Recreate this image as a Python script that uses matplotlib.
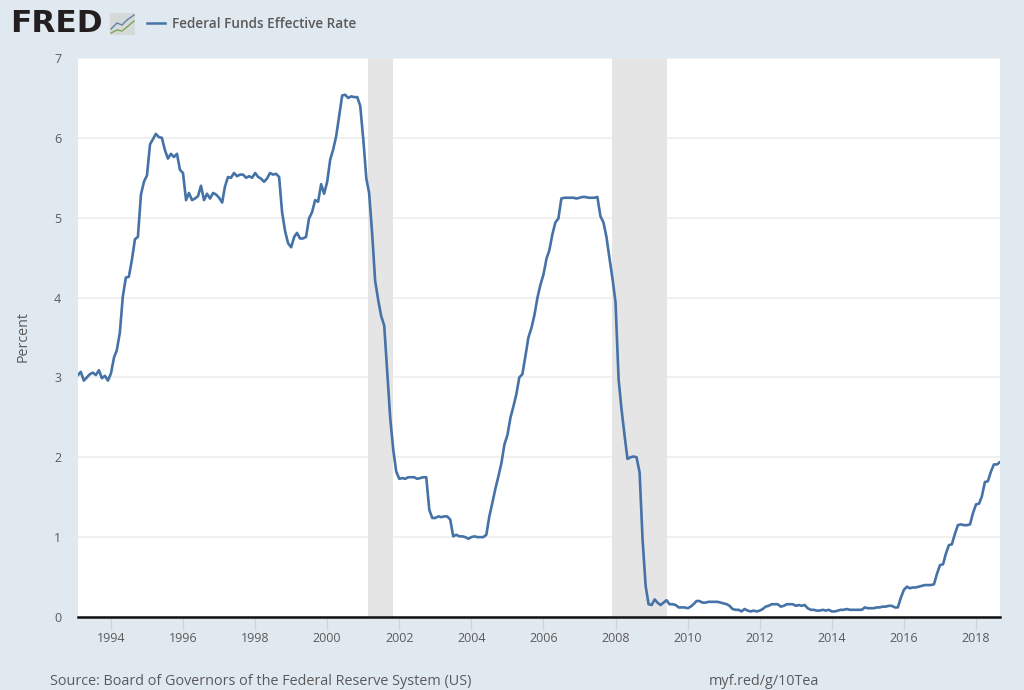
import matplotlib

matplotlib.use("Agg")
import matplotlib.pyplot as plt
import matplotlib.dates as mdates
import pandas as pd
from matplotlib.lines import Line2D
from matplotlib.patches import Rectangle

# monthly values, Feb 1993 to Sep 2018
RATE_1993 = [3.03, 3.07, 2.96, 3.00, 3.04, 3.06, 3.03, 3.09, 2.99, 3.02, 2.96]
RATE_1994 = [3.05, 3.25, 3.34, 3.56, 4.01, 4.25, 4.26, 4.47, 4.73, 4.76, 5.29, 5.45]
RATE_1995 = [5.53, 5.92, 5.98, 6.05, 6.01, 6.00, 5.85, 5.74, 5.80, 5.76, 5.80, 5.60]
RATE_1996 = [5.56, 5.22, 5.31, 5.22, 5.24, 5.27, 5.40, 5.22, 5.30, 5.24, 5.31, 5.29]
RATE_1997 = [5.25, 5.19, 5.39, 5.51, 5.50, 5.56, 5.52, 5.54, 5.54, 5.50, 5.52, 5.50]
RATE_1998 = [5.56, 5.51, 5.49, 5.45, 5.49, 5.56, 5.54, 5.55, 5.51, 5.07, 4.83, 4.68]
RATE_1999 = [4.63, 4.76, 4.81, 4.74, 4.74, 4.76, 4.99, 5.07, 5.22, 5.20, 5.42, 5.30]
RATE_2000 = [5.45, 5.73, 5.85, 6.02, 6.27, 6.53, 6.54, 6.50, 6.52, 6.51, 6.51, 6.40]
RATE_2001 = [5.98, 5.49, 5.31, 4.80, 4.21, 3.97, 3.77, 3.65, 3.07, 2.49, 2.09, 1.82]
RATE_2002 = [1.73, 1.74, 1.73, 1.75, 1.75, 1.75, 1.73, 1.74, 1.75, 1.75, 1.34, 1.24]
RATE_2003 = [1.24, 1.26, 1.25, 1.26, 1.26, 1.22, 1.01, 1.03, 1.01, 1.01, 1.00, 0.98]
RATE_2004 = [1.00, 1.01, 1.00, 1.00, 1.00, 1.03, 1.26, 1.43, 1.61, 1.76, 1.93, 2.16]
RATE_2005 = [2.28, 2.50, 2.63, 2.79, 3.00, 3.04, 3.26, 3.50, 3.62, 3.78, 4.00, 4.16]
RATE_2006 = [4.29, 4.49, 4.59, 4.79, 4.94, 4.99, 5.24, 5.25, 5.25, 5.25, 5.25, 5.24]
RATE_2007 = [5.25, 5.26, 5.26, 5.25, 5.25, 5.25, 5.26, 5.02, 4.94, 4.76, 4.49, 4.24]
RATE_2008 = [3.94, 2.98, 2.61, 2.28, 1.98, 2.00, 2.01, 2.00, 1.81, 0.97, 0.39, 0.16]
RATE_2009 = [0.15, 0.22, 0.18, 0.15, 0.18, 0.21, 0.16, 0.16, 0.15, 0.12, 0.12, 0.12]
RATE_2010 = [0.11, 0.13, 0.16, 0.20, 0.20, 0.18, 0.18, 0.19, 0.19, 0.19, 0.19, 0.18]
RATE_2011 = [0.17, 0.16, 0.14, 0.10, 0.09, 0.09, 0.07, 0.10, 0.08, 0.07, 0.08, 0.07]
RATE_2012 = [0.08, 0.10, 0.13, 0.14, 0.16, 0.16, 0.16, 0.13, 0.14, 0.16, 0.16, 0.16]
RATE_2013 = [0.14, 0.15, 0.14, 0.15, 0.11, 0.09, 0.09, 0.08, 0.08, 0.09, 0.08, 0.09]
RATE_2014 = [0.07, 0.07, 0.08, 0.09, 0.09, 0.10, 0.09, 0.09, 0.09, 0.09, 0.09, 0.12]
RATE_2015 = [0.11, 0.11, 0.11, 0.12, 0.12, 0.13, 0.13, 0.14, 0.14, 0.12, 0.12, 0.24]
RATE_2016 = [0.34, 0.38, 0.36, 0.37, 0.37, 0.38, 0.39, 0.40, 0.40, 0.40, 0.41, 0.54]
RATE_2017 = [0.65, 0.66, 0.79, 0.90, 0.91, 1.04, 1.15, 1.16, 1.15, 1.15, 1.16, 1.30]
RATE_2018 = [1.41, 1.42, 1.51, 1.69, 1.70, 1.82, 1.91, 1.91, 1.94]

RATES = (
    RATE_1993 + RATE_1994 + RATE_1995 + RATE_1996 + RATE_1997 + RATE_1998
    + RATE_1999 + RATE_2000 + RATE_2001 + RATE_2002 + RATE_2003 + RATE_2004
    + RATE_2005 + RATE_2006 + RATE_2007 + RATE_2008 + RATE_2009 + RATE_2010
    + RATE_2011 + RATE_2012 + RATE_2013 + RATE_2014 + RATE_2015 + RATE_2016
    + RATE_2017 + RATE_2018
)
DATES = pd.date_range("1993-02-01", periods=len(RATES), freq="MS")

RECESSIONS = [("2001-02-20", "2001-11-01"), ("2007-12-01", "2009-06-01")]
X_TICK_YEARS = [1994, 1996, 1998, 2000, 2002, 2004, 2006, 2008, 2010, 2012, 2014, 2016, 2018]
Y_TICKS = [0, 1, 2, 3, 4, 5, 6, 7]

SERIES_NAME = "Federal Funds Effective Rate"
SOURCE = "Source: Board of Governors of the Federal Reserve System (US)"
SHORT_URL = "myf.red/g/10Tea"

BACKGROUND = "#e1e9f0"
LINE_COLOR = "#4572a7"
TEXT_COLOR = "#5a5a5a"
WIDTH, HEIGHT = 1024, 690


def px_x(x):
    return x / WIDTH


def px_y(y):
    return 1 - y / HEIGHT


def draw_header(fig):
    fig.text(px_x(10), px_y(24), "FRED", family="DejaVu Sans", fontweight="bold", fontsize=22.5,
             color="#231f20", va="center", ha="left")
    fig.add_artist(Rectangle((px_x(110), px_y(35)), 25 / WIDTH, 22 / HEIGHT, transform=fig.transFigure,
                             facecolor="#d5dad8", edgecolor="none"))
    fig.add_artist(Line2D([px_x(p) for p in (111, 117, 122, 127, 134)], [px_y(p) for p in (29, 23, 25, 20, 15)],
                          color="#5f82a8", linewidth=1))
    fig.add_artist(Line2D([px_x(p) for p in (111, 117, 122, 127, 134)], [px_y(p) for p in (33, 30, 31, 27, 21)],
                          color="#7fa35c", linewidth=1))
    fig.add_artist(Line2D([px_x(147), px_x(165)], [px_y(23), px_y(23)], color=LINE_COLOR, linewidth=1.8))
    fig.text(px_x(172), px_y(24), SERIES_NAME, family="Open Sans", fontweight="semibold", fontsize=9.85,
             color=TEXT_COLOR, va="center", ha="left")


def main():
    fig = plt.figure(figsize=(WIDTH / 100, HEIGHT / 100), dpi=100, facecolor=BACKGROUND)
    ax = fig.add_axes([px_x(78), px_y(617), (1000 - 78) / WIDTH, (617 - 58) / HEIGHT])
    ax.set_facecolor("white")

    for start, end in RECESSIONS:
        ax.axvspan(pd.Timestamp(start), pd.Timestamp(end), color="#e5e5e5", linewidth=0, zorder=1)
    ax.plot(DATES, RATES, color=LINE_COLOR, linewidth=1.9, zorder=3)

    ax.set_xlim(DATES[0], DATES[-1])
    ax.set_ylim(0, 7)
    ax.set_yticks(Y_TICKS)
    ax.set_xticks([pd.Timestamp(year=y, month=1, day=1) for y in X_TICK_YEARS])
    ax.xaxis.set_major_formatter(mdates.DateFormatter("%Y"))
    ax.grid(True, axis="y", color="#eeeeee", linewidth=1.2, zorder=0)
    ax.set_axisbelow(True)
    for name in ("top", "right", "left"):
        ax.spines[name].set_visible(False)
    ax.spines["bottom"].set_color("#111111")
    ax.spines["bottom"].set_linewidth(1.8)
    ax.spines["bottom"].set_zorder(4)

    ax.tick_params(axis="x", length=9, width=1, color="#ccd6e0", labelsize=9, labelcolor=TEXT_COLOR, pad=2)
    ax.tick_params(axis="y", length=0, labelsize=9, labelcolor=TEXT_COLOR, pad=12)
    for label in ax.get_xticklabels() + ax.get_yticklabels():
        label.set_family("Open Sans")

    fig.text(px_x(23), px_y(337), "Percent", family="Open Sans", fontsize=10.3, color=TEXT_COLOR,
             rotation=90, va="center", ha="center")
    draw_header(fig)
    fig.text(px_x(50), px_y(681.5), SOURCE, family="Open Sans", fontsize=10.37, color=TEXT_COLOR,
             va="center", ha="left")
    fig.text(px_x(708.5), px_y(681.5), SHORT_URL, family="Open Sans", fontsize=10.37, color=TEXT_COLOR,
             va="center", ha="left")

    fig.savefig("out.png", dpi=100, facecolor=BACKGROUND)
    plt.close(fig)


if __name__ == "__main__":
    main()
